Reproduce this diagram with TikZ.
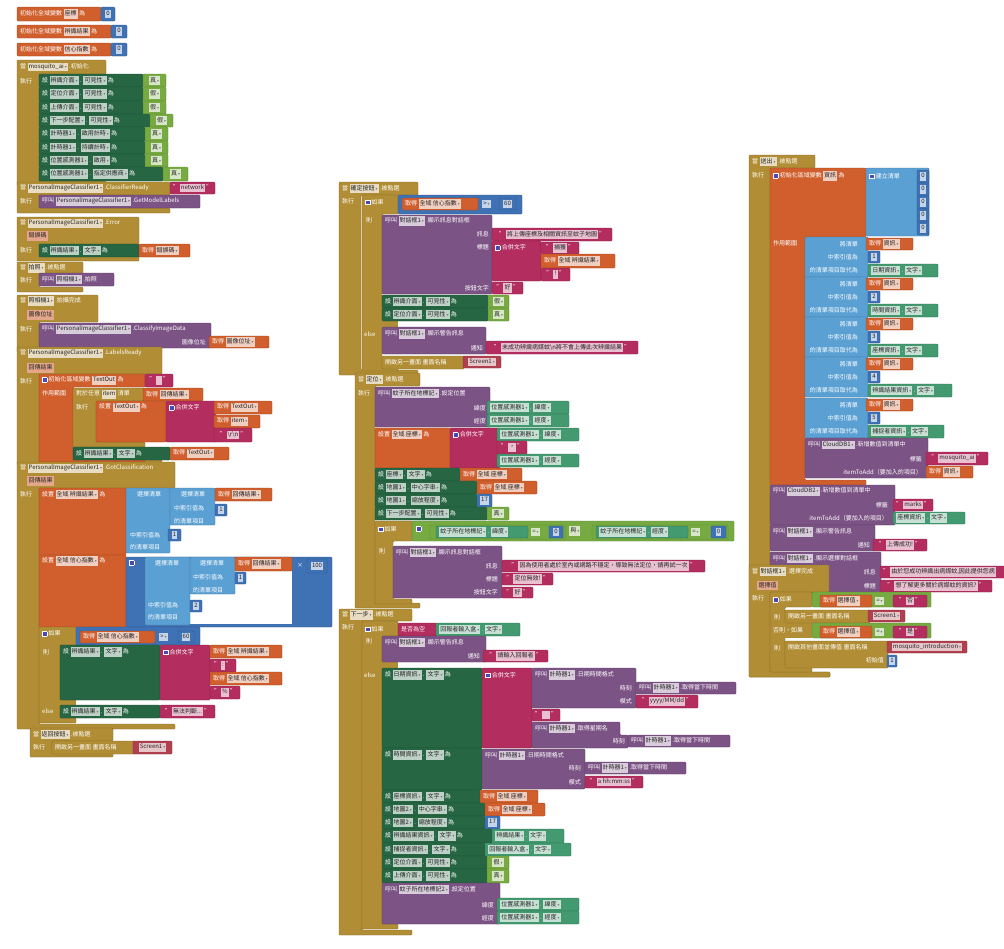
\documentclass[tikz,border=0pt]{standalone}
\usepackage{fontspec}
\setmainfont{Noto Sans CJK TC}
\newfontfamily\djv{DejaVu Sans}
\usepackage{tikz}

\definecolor{ev}{HTML}{B18E35}
\definecolor{vr}{HTML}{D05F2D}
\definecolor{tx}{HTML}{B32D5E}
\definecolor{st}{HTML}{266643}
\definecolor{gt}{HTML}{439970}
\definecolor{lg}{HTML}{77AB41}
\definecolor{mt}{HTML}{3F71B5}
\definecolor{ls}{HTML}{5BA0D3}
\definecolor{pr}{HTML}{7C5385}
\definecolor{sc}{HTML}{B0404F}
\definecolor{mu}{HTML}{4B47B5}
\colorlet{chip}{white!80!black}

\newcommand\fsz{\fontsize{6.0}{6.5}\selectfont}
\newcommand\ddn{\,{\djv\fontsize{3.8}{4}\selectfont\textcolor{black!55}{▾}}}
\newcommand\ck[1]{{\setlength\fboxsep{1.1pt}\colorbox{chip}{\textcolor{black!85}{\strut#1}}}}
\newcommand\dk[1]{\ck{#1\ddn}}
\newcommand\prm[1]{{\setlength\fboxsep{1.3pt}\colorbox{vr!55!white}{\textcolor{black!85}{\strut#1}}}}
\newcommand\mut{{\setlength\fboxsep{0pt}\setlength\fboxrule{.7pt}\fcolorbox{white}{mu}{\rule{0pt}{3.8pt}\rule{3.8pt}{0pt}}}}

\newcounter{nn}
\tikzset{
  blk/.style={fill=#1,draw=#1!75!black,line width=.35pt,rounded corners=1pt},
  lb/.style={anchor=west,inner sep=0pt,text=white,font=\fsz,
    execute at begin node={\colorlet{chip}{white!70!#1}}},
  lb/.default=st,
  rb/.style={lb=#1,anchor=east},
  rb/.default=pr,
  cb/.style={lb=#1,anchor=center}
}
% block pieces
\newcommand\bx[5]{\fill[blk=#1] (#2,#3) rectangle (#4,#5);}
\newcommand\evc[8]{\fill[blk=#1] (#2,#3) -- (#4,#3) -- (#4,#5) -- (#6,#5) -- (#6,{#7-5}) -- (#8,{#7-5}) -- (#8,#7) -- (#2,#7) -- cycle;}
\newcommand\lbl[4][ev]{\stepcounter{nn}\node[lb=#1] (n\thenn) at ({#2},{#3}) {#4};}
\newcommand\rbl[4][pr]{\stepcounter{nn}\node[rb=#1] (n\thenn) at ({#2},{#3}) {#4};}
\newcommand\vbx[6]{\bx{#1}{#2}{#3}{#4}{#5}\stepcounter{nn}\node[cb=#1] (n\thenn) at ({(#2+#4)/2},{(#3+#5)/2}) {#6};}
\newcommand\nbx[5]{\vbx{mt}{#1}{#2}{#3}{#4}{\ck{#5}}}
\newcommand\tbx[5]{\vbx{tx}{#1}{#2}{#3}{#4}{"\,\ck{#5}\,"}}
\newcommand\bvx[5]{\vbx{lg}{#1}{#2}{#3}{#4}{\dk{#5}}}
\newcommand\gbx[5]{\bx{vr}{#1}{#2}{#3}{#4}\lbl[vr]{#1+3}{(#2+#4)/2}{取得 \dk{#5}}}
\newcommand\gpx[6]{\bx{gt}{#1}{#2}{#3}{#4}\lbl[gt]{#1+3}{(#2+#4)/2}{\dk{#5} . \dk{#6}}}
\newcommand\srx[6]{\bx{st}{#1}{#2}{#3}{#4}\lbl[st]{#1+3}{(#2+#4)/2}{設 \dk{#5} . \dk{#6} 為}}

\begin{document}
\begin{tikzpicture}[x=1pt,y=-1pt]
\clip (0,0) rectangle (1004,948);
\fill[white] (0,0) rectangle (1004,948);
% global variables
\bx{vr}{17}{7}{101}{21}\lbl[vr]{20}{14}{初始化全域變數 \ck{座標} 為}\nbx{101}{7}{115}{21}{0}
\bx{vr}{17}{25}{111}{38}\lbl[vr]{20}{31.5}{初始化全域變數 \ck{辨識結果} 為}\nbx{111}{25}{127}{38}{0}
\bx{vr}{17}{43}{111}{56}\lbl[vr]{20}{49.5}{初始化全域變數 \ck{信心指數} 為}\nbx{111}{43}{127}{56}{0}
% mosquito_ai.初始化
\evc{ev}{17}{60}{106}{74}{39}{186}{106}
\lbl{20}{67}{當 \dk{mosquito\_ai} .初始化}\lbl{20}{81}{執行}
\srx{39}{74}{143}{87}{辨識介面}{可見性}\bvx{143}{74}{166}{87}{真}
\srx{39}{87}{143}{101}{定位介面}{可見性}\bvx{143}{87}{166}{101}{假}
\srx{39}{101}{143}{114}{上傳介面}{可見性}\bvx{143}{101}{166}{114}{假}
\srx{39}{114}{150}{127}{下一步配置}{可見性}\bvx{150}{114}{173}{127}{假}
\srx{39}{127}{145}{141}{計時器1}{啟用計時}\bvx{145}{127}{168}{141}{真}
\srx{39}{141}{145}{154}{計時器1}{持續計時}\bvx{145}{141}{168}{154}{真}
\srx{39}{154}{145}{167}{位置感測器1}{啟用}\bvx{145}{154}{168}{167}{真}
\srx{39}{167}{163}{181}{位置感測器1}{指定供應商}\bvx{163}{167}{188}{181}{真}
% ClassifierReady
\evc{ev}{17}{182}{170}{195}{39}{213}{170}
\lbl{20}{188.5}{當 \dk{PersonalImageClassifier1} .ClassifierReady}\lbl{20}{201}{執行}
\tbx{170}{182}{215}{194}{network}
\bx{pr}{39}{195}{200}{208}\lbl[pr]{42}{201.5}{呼叫 \dk{PersonalImageClassifier1} .GetModelLabels}
% Error
\evc{ev}{17}{217}{139}{244}{39}{261}{139}
\lbl{20}{223}{當 \dk{PersonalImageClassifier1} .Error}\lbl{27}{236}{\prm{錯誤碼}}\lbl{20}{250}{執行}
\srx{39}{244}{139}{257}{辨識結果}{文字}\gbx{139}{244}{190}{257}{錯誤碼}
% 拍照.被點選
\evc{ev}{17}{262}{83}{274}{39}{292}{83}
\lbl{20}{268}{當 \dk{拍照} .被點選}\lbl{20}{280}{執行}
\bx{pr}{39}{273}{114}{286}\lbl[pr]{42}{279.5}{呼叫 \dk{照相機1} .拍照}
% 照相機1.拍攝完成
\evc{ev}{17}{295}{98}{322}{39}{352}{98}
\lbl{20}{301}{當 \dk{照相機1} .拍攝完成}\lbl{27}{315}{\prm{圖像位址}}\lbl{20}{329}{執行}
\bx{pr}{39}{323}{211}{348}\lbl[pr]{42}{329}{呼叫 \dk{PersonalImageClassifier1} .ClassifyImageData}
\rbl{206}{342}{圖像位址}\gbx{209}{336}{269}{348}{圖像位址}
% LabelsReady
\evc{ev}{17}{347}{162}{374}{39}{465}{162}
\lbl{20}{353.5}{當 \dk{PersonalImageClassifier1} .LabelsReady}\lbl{27}{368}{\prm{回傳結果}}\lbl{20}{381}{執行}
\evc{vr}{39}{374}{145}{387}{73}{462}{145}
\lbl[vr]{42}{380.5}{\mut\ 初始化區域變數 \ck{TextOut} 為}\lbl[vr]{42}{393}{作用範圍}
\tbx{145}{374}{173}{387}{\phantom{x}}
\evc{ev}{73}{388}{145}{401}{96}{447}{145}
\lbl{76}{394.5}{對於任意 \ck{item} 清單}\lbl{76}{407}{執行}
\gbx{143}{388}{203}{401}{回傳結果}
\bx{vr}{96}{401}{166}{442}\lbl[vr]{99}{407.5}{設置 \dk{TextOut} 為}
\bx{tx}{166}{401}{216}{442}\lbl[tx]{169}{407.5}{\mut\ 合併文字}
\gbx{214}{401}{272}{414}{TextOut}\gbx{214}{415}{260}{428}{item}
\tbx{214}{428}{252}{442}{\textbackslash r\textbackslash n}
\srx{73}{447}{170}{460}{辨識結果}{文字}\gbx{170}{447}{229}{460}{TextOut}
% GotClassification
\evc{ev}{17}{462}{175}{488}{39}{729}{175}
\lbl{20}{468.5}{當 \dk{PersonalImageClassifier1} .GotClassification}\lbl{27}{481}{\prm{回傳結果}}\lbl{20}{494}{執行}
\bx{vr}{39}{488}{126}{555}\lbl[vr]{42}{494.5}{設置 \dk{全域 辨識結果} 為}
\bx{ls}{126}{488}{170}{553}\lbl[ls]{137}{494.5}{選擇清單}\lbl[ls]{130}{535}{中索引值為}\lbl[ls]{130}{547}{的清單項目}
\bx{ls}{170}{488}{215}{525}\lbl[ls]{181}{494.5}{選擇清單}\lbl[ls]{174}{508}{中索引值為}\lbl[ls]{174}{521}{的清單項目}
\gbx{215}{488}{272}{501}{回傳結果}\nbx{215}{504}{227}{516}{1}\nbx{168}{529}{181}{541}{1}
\bx{vr}{39}{555}{126}{627}\lbl[vr]{42}{561}{設置 \dk{全域 信心指數} 為}
\bx{mt}{126}{557}{332}{627}\fill[white] (145,560) rectangle (292,624);
\lbl[mt]{129}{563}{\mut}
\bx{ls}{145}{557}{190}{625}\lbl[ls]{155}{563}{選擇清單}\lbl[ls]{148}{605}{中索引值為}\lbl[ls]{148}{617}{的清單項目}
\bx{ls}{190}{557}{235}{594}\lbl[ls]{200}{563}{選擇清單}\lbl[ls]{193}{577}{中索引值為}\lbl[ls]{193}{590}{的清單項目}
\gbx{235}{557}{292}{571}{回傳結果}\nbx{235}{572}{246}{584}{1}\nbx{190}{600}{202}{612}{2}
\lbl[mt]{297}{565}{×}\nbx{307}{559}{327}{573}{100}
\evc{ev}{39}{627}{76}{645}{60}{723}{76}\fill[ev] (39.5,700) rectangle (76,705);
\lbl{42}{633.5}{\mut\ 如果}\lbl{43}{652}{則}\lbl{42}{711}{else}
\bx{mt}{76}{627}{200}{645}\gbx{80}{631}{155}{643}{全域 信心指數}\lbl[mt]{159}{637}{\dk{>}}\nbx{178}{631}{194}{643}{60}
\bx{st}{60}{645}{160}{700}\lbl[st]{63}{652}{設 \dk{辨識結果} . \dk{文字} 為}
\bx{tx}{160}{645}{210}{700}\lbl[tx]{163}{652}{\mut\ 合併文字}
\gbx{210}{645}{282}{658}{全域 辨識結果}\tbx{210}{659}{236}{672}{:}
\gbx{210}{672}{282}{685}{全域 信心指數}\tbx{210}{686}{240}{699}{\%}
\srx{60}{705}{160}{718}{辨識結果}{文字}\tbx{160}{705}{215}{718}{無法判斷...}
% 返回按鈕.被點選
\evc{ev}{30}{728}{113}{741}{52}{757}{113}
\lbl{33}{734.5}{當 \dk{返回按鈕} .被點選}\lbl{33}{747}{執行}
\bx{ev}{52}{741}{135}{754}\lbl{55}{747.5}{開啟另一畫面\ 畫面名稱}\vbx{sc}{133}{741}{172}{754}{\dk{Screen1}}

% 確定按鈕.被點選
\evc{ev}{339}{182}{418}{195}{361}{375}{418}
\lbl{342}{188.5}{當 \dk{確定按鈕} .被點選}\lbl{342}{201}{執行}
\evc{ev}{362}{195}{398}{214}{382}{371}{398}\fill[ev] (362.5,321) rectangle (398,327);
\lbl{365}{202}{\mut\ 如果}\lbl{366}{220}{則}\lbl{364}{334}{else}
\bx{mt}{398}{195}{522}{214}\gbx{402}{198}{478}{210}{全域 信心指數}\lbl[mt]{482}{204}{\dk{>}}\nbx{499}{198}{516}{210}{60}
\bx{pr}{382}{215}{492}{294}\lbl[pr]{385}{221}{呼叫 \dk{對話框1} .顯示訊息對話框}
\rbl{489}{234.5}{訊息}\rbl{489}{247.5}{標題}\rbl{489}{288}{按鈕文字}
\tbx{492}{228}{612}{241}{將上傳座標及相關資訊至蚊子地圖}
\bx{tx}{492}{241}{541}{281}\lbl[tx]{495}{247.5}{\mut\ 合併文字}
\tbx{541}{242}{579}{254}{捕獲}\gbx{541}{254}{615}{268}{全域 辨識結果}\tbx{541}{268}{570}{281}{!}
\tbx{492}{282}{523}{294}{好}
\srx{382}{295}{488}{308}{辨識介面}{可見性}\bvx{488}{295}{509}{308}{假}
\srx{382}{308}{488}{321}{定位介面}{可見性}\bvx{488}{308}{509}{321}{真}
\bx{pr}{382}{327}{486}{354}\lbl[pr]{385}{334}{呼叫 \dk{對話框1} .顯示警告訊息}\rbl{483}{348}{通知}
\tbx{486}{341}{638}{354}{未成功辨識病媒蚊\textbackslash n將不會上傳此次辨識結果}
\bx{ev}{382}{356}{464}{369}\lbl{385}{362.5}{開啟另一畫面\ 畫面名稱}\vbx{sc}{463}{356}{501}{368}{\dk{Screen1}}
% 定位.被點選
\evc{ev}{355}{373}{420}{386}{375}{608}{420}
\lbl{358}{379.5}{當 \dk{定位} .被點選}\lbl{358}{393}{執行}
\bx{pr}{375}{387}{490}{427}\lbl[pr]{378}{393.5}{呼叫 \dk{蚊子所在地標記} .設定位置}\rbl{486}{408}{緯度}\rbl{486}{421}{經度}
\gpx{487}{401}{569}{414}{位置感測器1}{緯度}\gpx{487}{414}{569}{427}{位置感測器1}{經度}
\bx{vr}{375}{428}{450}{468}\lbl[vr]{378}{434.5}{設置 \dk{全域 座標} 為}
\bx{tx}{450}{428}{500}{468}\lbl[tx]{453}{434.5}{\mut\ 合併文字}
\gpx{497}{428}{579}{441}{位置感測器1}{緯度}\tbx{497}{441}{527}{454}{，}\gpx{497}{454}{579}{467}{位置感測器1}{經度}
\srx{375}{468}{460}{481}{座標}{文字}\gbx{460}{468}{522}{481}{全域 座標}
\srx{375}{481}{477}{494}{地圖1}{中心字串}\gbx{477}{481}{537}{494}{全域 座標}
\srx{375}{494}{477}{507}{地圖1}{縮放程度}\nbx{477}{494}{492}{507}{17}
\srx{375}{507}{487}{520}{下一步配置}{可見性}\bvx{487}{507}{509}{520}{真}
\evc{ev}{375}{521}{412}{541}{393}{604}{412}
\lbl{378}{529}{\mut\ 如果}\lbl{379}{551}{則}
\bx{lg}{412}{521}{734}{541}\lbl[lg]{416}{529}{\mut}
\bx{lg}{430}{525}{565}{539}\gpx{436}{526}{528}{538}{蚊子所在地標記}{緯度}\lbl[lg]{531}{532}{\dk{=}}\nbx{549}{526}{563}{538}{0}
\lbl[lg]{569}{531}{\dk{與}}
\bx{lg}{592}{525}{728}{539}\gpx{596}{526}{688}{538}{蚊子所在地標記}{經度}\lbl[lg]{691}{532}{\dk{=}}\nbx{711}{526}{726}{538}{0}
\bx{pr}{393}{546}{502}{598}\lbl[pr]{396}{552.5}{呼叫 \dk{對話框1} .顯示訊息對話框}
\rbl{498}{566}{訊息}\rbl{498}{579}{標題}\rbl{498}{592}{按鈕文字}
\tbx{502}{560}{705}{572}{因為使用者處於室內或網路不穩定，導致無法定位，請再試一次}
\tbx{502}{573}{553}{585}{定位無效!}\tbx{502}{587}{533}{598}{好}
% 下一步.被點選
\evc{ev}{339}{609}{412}{621}{362}{935}{412}
\lbl{342}{615}{當 \dk{下一步} .被點選}\lbl{342}{627}{執行}
\evc{ev}{362}{621}{398}{636}{382}{929}{398}\fill[ev] (362.5,662) rectangle (398,668);
\lbl{365}{629}{\mut\ 如果}\lbl{366}{641}{則}\lbl{364}{675}{else}
\bx{tx}{398}{623}{437}{636}\lbl[tx]{401}{629.5}{是否為空}\gpx{436}{623}{520}{636}{回報者輸入盒}{文字}
\bx{pr}{382}{636}{486}{662}\lbl[pr]{385}{642.5}{呼叫 \dk{對話框1} .顯示警告訊息}\rbl{480}{656}{通知}
\tbx{483}{650}{548}{662}{請輸入回報者}
\bx{st}{382}{668}{482}{748}\lbl[st]{385}{675}{設 \dk{日期資訊} . \dk{文字} 為}
\bx{tx}{482}{668}{532}{748}\lbl[tx]{485}{675}{\mut\ 合併文字}
\bx{pr}{532}{668}{636}{708}\lbl[pr]{535}{675}{呼叫 \dk{計時器1} .日期時間格式}\rbl{632}{688}{時刻}\rbl{632}{701.5}{模式}
\bx{pr}{636}{682}{736}{694}\lbl[pr]{639}{688}{呼叫 \dk{計時器1} .取得當下時間}
\tbx{636}{695}{698}{708}{yyyy/MM/dd}
\tbx{532}{709}{560}{721}{\phantom{xx}}
\fill[blk=pr] (532,722) -- (620,722) -- (620,735) -- (628,735) -- (628,748) -- (532,748) -- cycle;
\lbl[pr]{535}{728.5}{呼叫 \dk{計時器1} .取得星期名}\rbl{625}{741.5}{時刻}
\bx{pr}{628}{735}{730}{747}\lbl[pr]{631}{741}{呼叫 \dk{計時器1} .取得當下時間}
\bx{st}{382}{748}{482}{790}\lbl[st]{385}{755}{設 \dk{時間資訊} . \dk{文字} 為}
\bx{pr}{482}{749}{585}{789}\lbl[pr]{485}{755.5}{呼叫 \dk{計時器1} .日期時間格式}\rbl{581}{768}{時刻}\rbl{581}{782}{模式}
\bx{pr}{585}{762}{686}{774}\lbl[pr]{588}{768}{呼叫 \dk{計時器1} .取得當下時間}
\tbx{585}{776}{643}{788}{a hh:mm:ss}
\srx{382}{790}{480}{803}{座標資訊}{文字}\gbx{480}{790}{538}{803}{全域 座標}
\srx{382}{803}{485}{816}{地圖2}{中心字串}\gbx{485}{803}{545}{816}{全域 座標}
\srx{382}{816}{485}{829}{地圖2}{縮放程度}\nbx{485}{816}{500}{829}{17}
\srx{382}{829}{492}{843}{辨識結果資訊}{文字}\gpx{492}{829}{564}{843}{辨識結果}{文字}
\srx{382}{843}{485}{856}{捕捉者資訊}{文字}\gpx{485}{843}{571}{856}{回報者輸入盒}{文字}
\srx{382}{856}{487}{869}{定位介面}{可見性}\bvx{487}{856}{509}{869}{假}
\srx{382}{869}{487}{883}{上傳介面}{可見性}\bvx{487}{869}{509}{883}{真}
\bx{pr}{382}{883}{500}{924}\lbl[pr]{385}{889.5}{呼叫 \dk{蚊子所在地標記2} .設定位置}\rbl{494}{905}{緯度}\rbl{494}{918}{經度}
\gpx{497}{898}{579}{911}{位置感測器1}{緯度}\gpx{497}{911}{579}{924}{位置感測器1}{經度}

% 送出.被點選
\evc{ev}{749}{155}{815}{168}{770}{677}{830}
\lbl{752}{161.5}{當 \dk{送出} .被點選}\lbl{752}{175}{執行}
\evc{vr}{770}{168}{866}{237}{805}{485}{866}
\lbl[vr]{773}{176}{\mut\ 初始化區域變數 \ck{資訊} 為}\lbl[vr]{773}{243}{作用範圍}
\bx{ls}{866}{168}{929}{236}\lbl[ls]{869}{176}{\mut\ 建立清單}
\foreach \yy in {170,183,196,209,222}{\nbx{917}{\yy}{929}{\yy+13}{0}}
\foreach \bb/\idx/\lab/\ww in {237/1/日期資訊/938,277/2/時間資訊/938,317/3/座標資訊/938,357/4/辨識結果資訊/952,398/5/捕捉者資訊/944}{
  \bx{ls}{805}{\bb}{868}{\bb+40}
  \rbl[ls]{858}{\bb+7}{將清單}\rbl[ls]{858}{\bb+20}{中索引值為}\rbl[ls]{858}{\bb+33}{的清單項目取代為}
  \gbx{866}{\bb+1}{913}{\bb+13}{資訊}\nbx{868}{\bb+14}{880}{\bb+26}{\idx}\gpx{868}{\bb+27}{\ww}{\bb+40}{\lab}{文字}
}
\bx{pr}{805}{438}{928}{478}\lbl[pr]{808}{445}{呼叫 \dk{CloudDB1} .新增數值到清單中}
\rbl{922}{459}{標籤}\rbl{922}{472}{itemToAdd（要加入的項目）}
\tbx{926}{452}{988}{465}{mosquito\_ai}\gbx{926}{466}{973}{478}{資訊}
\bx{pr}{770}{485}{895}{525}\lbl[pr]{773}{491.5}{呼叫 \dk{CloudDB2} .新增數值到清單中}
\rbl{888}{505}{標籤}\rbl{888}{518}{itemToAdd（要加入的項目）}
\tbx{893}{499}{933}{511}{marks}\gpx{893}{512}{965}{524}{座標資訊}{文字}
\bx{pr}{770}{525}{875}{551}\lbl[pr]{773}{532}{呼叫 \dk{對話框1} .顯示警告訊息}\rbl{870}{545}{通知}
\tbx{873}{539}{927}{551}{上傳成功!}
\bx{pr}{770}{552}{881}{593}\lbl[pr]{773}{558.5}{呼叫 \dk{對話框1} .顯示選擇對話框}\rbl{876}{572}{訊息}\rbl{876}{586}{標題}
\bx{tx}{880}{566}{1010}{578}\lbl[tx]{883}{572}{"\,\ck{由於您成功辨識出病媒蚊,因此提供您病}}
\tbx{880}{580}{992}{592}{想了解更多關於病媒蚊的資訊?}
% 對話框1.選擇完成
\evc{ev}{749}{565}{829}{592}{770}{677}{830}
\lbl{752}{571.5}{當 \dk{對話框1} .選擇完成}\lbl{757}{585.5}{\prm{選擇值}}\lbl{752}{598}{執行}
\evc{ev}{770}{592}{812}{607}{785}{672}{812}\fill[ev] (770.5,623) rectangle (812,638);
\lbl{773}{599.5}{\mut\ 如果}\lbl{774}{617}{則}\lbl{773}{630.5}{否則，如果}\lbl{774}{648}{則}
\bx{lg}{812}{592}{931}{607}\gbx{820}{595}{872}{607}{選擇值}\lbl[lg]{875}{601}{\dk{=}}\tbx{893}{595}{927}{607}{否}
\bx{ev}{785}{610}{870}{623}\lbl{788}{616.5}{開啟另一畫面\ 畫面名稱}\vbx{sc}{868}{610}{905}{622}{\dk{Screen1}}
\bx{lg}{812}{623}{931}{638}\gbx{820}{626}{872}{638}{選擇值}\lbl[lg]{875}{632}{\dk{=}}\tbx{893}{626}{927}{638}{是}
\bx{ev}{785}{641}{888}{668}\lbl{788}{647.5}{開啟其他畫面並傳值\ 畫面名稱}\rbl[ev]{884}{660.5}{初始值}
\vbx{sc}{887}{641}{967}{653}{\dk{mosquito\_introduction}}\nbx{887}{655}{897}{667}{1}
\end{tikzpicture}
\end{document}
